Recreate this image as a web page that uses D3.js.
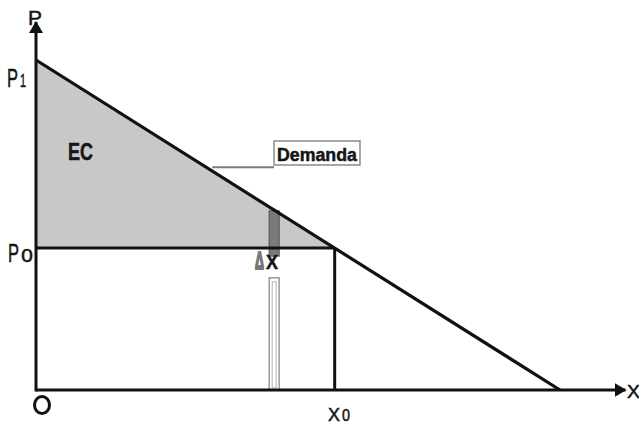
<!DOCTYPE html>
<html>
<head>
<meta charset="utf-8">
<script src="https://cdn.jsdelivr.net/npm/d3@7"></script>
<style>
  body { margin: 0; background: #fff; }
  text { font-family: "Liberation Sans", Arial, sans-serif; fill: #151515; stroke: #151515; stroke-width: 0.5; }
</style>
</head>
<body>
<div id="chart"></div>
<script>
// Diagram values (economic units)
var demandLine = [[0, 10], [10, 0]];          // (quantity, price)
var p1 = 10;
var p0 = 4.3;
var x0 = 5.7;
var deltaX = [4.45, 4.64];                    // thin slice of quantity
var hollowTop = 3.4;                          // top of the hollow strip
var axisMax = { q: 11.25, p: 11.15 };
var leaderPrice = 6.75;                       // where the "Demanda" leader leaves the line

// label texts: [main, subscript]
var labelP = ["P", ""];
var labelP1 = ["P", "1"];
var labelP0 = ["P", "o"];
var labelX0 = ["X", "0"];
var labelX = ["X", ""];
var labelDX = ["\u0394", "X"];

var svgWidth = 639;
var svgHeight = 426;

var svg = d3.select("#chart")
  .append("svg")
  .attr("width", svgWidth)
  .attr("height", svgHeight);

// scales
var xScale = d3.scaleLinear().domain([0, 10]).range([36, 560]);
var yScale = d3.scaleLinear().domain([0, 10]).range([390, 60]);

// demand price at quantity q, and quantity at price p
function demandP(q) {
  var a = demandLine[0], b = demandLine[1];
  return a[1] + (b[1] - a[1]) * (q - a[0]) / (b[0] - a[0]);
}
function demandQ(p) {
  var a = demandLine[0], b = demandLine[1];
  return a[0] + (b[0] - a[0]) * (p - a[1]) / (b[1] - a[1]);
}

var line = d3.line().x(d => xScale(d[0])).y(d => yScale(d[1]));

// consumer surplus triangle
svg.append("path")
  .attr("d", line([[0, p1], [x0, p0], [0, p0]]) + "Z")
  .attr("fill", "#c8c8c8");

// delta x bar (inside the surplus)
svg.append("rect")
  .attr("x", xScale(deltaX[0]))
  .attr("y", yScale(demandP(deltaX[0])) + 4)
  .attr("width", xScale(deltaX[1]) - xScale(deltaX[0]))
  .attr("height", yScale(p0) - yScale(demandP(deltaX[0])) + 4)
  .attr("fill", "#7a7a7a")
  .attr("stroke", "#5a5a5a")
  .attr("stroke-width", 1.2);

// hollow strip below
svg.append("rect")
  .attr("x", xScale(deltaX[0]))
  .attr("y", yScale(hollowTop))
  .attr("width", xScale(deltaX[1]) - xScale(deltaX[0]))
  .attr("height", yScale(0) - yScale(hollowTop))
  .attr("fill", "#fff")
  .attr("stroke", "#8a8a8a")
  .attr("stroke-width", 1.3);
svg.append("rect")
  .attr("x", xScale(deltaX[0]) + 3)
  .attr("y", yScale(hollowTop) + 4)
  .attr("width", xScale(deltaX[1]) - xScale(deltaX[0]) - 6)
  .attr("height", yScale(0) - yScale(hollowTop) - 6)
  .attr("fill", "none")
  .attr("stroke", "#b0b0b0")
  .attr("stroke-width", 1);

// P0 horizontal and X0 vertical
svg.append("line")
  .attr("x1", xScale(0)).attr("y1", yScale(p0))
  .attr("x2", xScale(x0)).attr("y2", yScale(p0))
  .attr("stroke", "#111").attr("stroke-width", 3);
svg.append("line")
  .attr("x1", xScale(x0)).attr("y1", yScale(p0))
  .attr("x2", xScale(x0)).attr("y2", yScale(0))
  .attr("stroke", "#111").attr("stroke-width", 3);

// demand line
svg.append("path")
  .attr("d", line(demandLine))
  .attr("fill", "none")
  .attr("stroke", "#111")
  .attr("stroke-width", 3.2);

// axes with arrows
svg.append("defs").append("marker")
  .attr("id", "arrow")
  .attr("viewBox", "0 0 12 14")
  .attr("refX", 11).attr("refY", 7)
  .attr("markerWidth", 12).attr("markerHeight", 14)
  .attr("markerUnits", "userSpaceOnUse")
  .attr("orient", "auto")
  .append("path")
  .attr("d", "M0,0 L12,7 L0,14 Z")
  .attr("fill", "#111");

svg.append("line")
  .attr("x1", xScale(0)).attr("y1", yScale(0))
  .attr("x2", xScale(axisMax.q)).attr("y2", yScale(0))
  .attr("stroke", "#111").attr("stroke-width", 3)
  .attr("marker-end", "url(#arrow)");
svg.append("line")
  .attr("x1", xScale(0)).attr("y1", yScale(0) + 1.5)
  .attr("x2", xScale(0)).attr("y2", yScale(axisMax.p))
  .attr("stroke", "#111").attr("stroke-width", 3)
  .attr("marker-end", "url(#arrow)");

// origin circle
svg.append("ellipse")
  .attr("cx", xScale(0) + 6).attr("cy", yScale(0) + 15)
  .attr("rx", 7.5).attr("ry", 8.5)
  .attr("fill", "none").attr("stroke", "#111").attr("stroke-width", 3);

// Demanda leader and box
var leaderY = yScale(leaderPrice);
svg.append("line")
  .attr("x1", xScale(demandQ(leaderPrice)) + 6).attr("y1", leaderY)
  .attr("x2", 274).attr("y2", leaderY)
  .attr("stroke", "#7a7a7a").attr("stroke-width", 2);
svg.append("rect")
  .attr("x", 274).attr("y", 141)
  .attr("width", 86).attr("height", 24)
  .attr("fill", "#fff")
  .attr("stroke", "#8a8a8a").attr("stroke-width", 1.5);

// text squeezed horizontally to a given width
function fitText(x, y, str, size, width, weight) {
  var t = svg.append("text")
    .attr("font-size", size)
    .attr("font-weight", weight || "normal")
    .text(str);
  var w = t.node().getComputedTextLength();
  t.attr("transform", `translate(${x}, ${y}) scale(${width / w}, 1)`);
  return t;
}

fitText(277, 161, "Demanda", 19, 80, "bold");
fitText(68, 160, "EC", 23, 25, "bold");

// main letter plus smaller trailing letter
function label(x, y, parts, sizes, widths, weight) {
  var a = fitText(x, y, parts[0], sizes[0], widths[0], weight);
  var b = null;
  if (parts[1]) {
    b = fitText(x + widths[0] + 2, y, parts[1], sizes[1], widths[1], weight);
  }
  return [a, b];
}

label(28, 25, labelP, [21], [14]);
label(7, 87, labelP1, [25, 19], [11, 6]);
label(8, 262, labelP0, [25, 24], [11, 12]);
label(328, 421, labelX0, [19, 16], [12, 8]);
label(627, 398, labelX, [19], [13]);

var dx = label(255, 269, labelDX, [24, 21], [9, 12], "bold");
dx[0].style("fill", "#777").style("stroke", "#777").style("stroke-width", 2);
</script>
</body>
</html>
